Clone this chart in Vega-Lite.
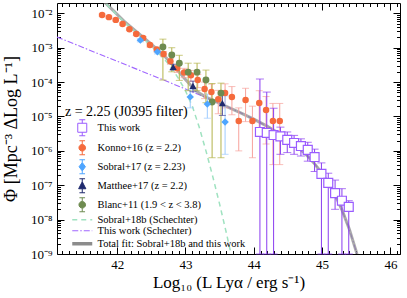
{
  "$schema": "https://vega.github.io/schema/vega-lite/v6.json",
  "width": 343,
  "height": 251,
  "autosize": {"type": "none"},
  "padding": {"left": 57, "top": 3, "right": 7, "bottom": 44},
  "background": "white",
  "config": {
    "font": "Liberation Serif",
    "view": {"stroke": "#000", "strokeWidth": 1},
    "axis": {"domain": false, "grid": false, "tickColor": "#000", "labelColor": "#000", "titleColor": "#000", "labelFont": "Liberation Serif", "titleFont": "Liberation Serif", "labelFontSize": 13, "titleFontSize": 17, "titleFontWeight": "normal", "labelOverlap": false, "labelFlush": false}
  },
  "datasets": {
    "konno": [
      {"L": 41.78, "y": -2.05, "hi": -2.02, "lo": -2.08},
      {"L": 41.88, "y": -2.11, "hi": -2.08, "lo": -2.14},
      {"L": 41.98, "y": -2.19, "hi": -2.16, "lo": -2.22},
      {"L": 42.08, "y": -2.31, "hi": -2.28, "lo": -2.34},
      {"L": 42.18, "y": -2.46, "hi": -2.43, "lo": -2.5},
      {"L": 42.28, "y": -2.6, "hi": -2.56, "lo": -2.64},
      {"L": 42.38, "y": -2.72, "hi": -2.68, "lo": -2.77},
      {"L": 42.48, "y": -2.92, "hi": -2.87, "lo": -2.98},
      {"L": 42.58, "y": -3.05, "hi": -2.99, "lo": -3.12},
      {"L": 42.68, "y": -3.18, "hi": -3.11, "lo": -3.26},
      {"L": 42.78, "y": -3.39, "hi": -3.31, "lo": -3.48},
      {"L": 42.88, "y": -3.6, "hi": -3.5, "lo": -3.72},
      {"L": 42.98, "y": -3.72, "hi": -3.6, "lo": -3.87},
      {"L": 43.08, "y": -3.8, "hi": -3.66, "lo": -3.98},
      {"L": 43.18, "y": -3.94, "hi": -3.78, "lo": -4.16},
      {"L": 43.28, "y": -4.2, "hi": -4.0, "lo": -4.48},
      {"L": 43.38, "y": -4.29, "hi": -4.06, "lo": -4.63},
      {"L": 43.48, "y": -4.5, "hi": -4.24, "lo": -4.92},
      {"L": 43.58, "y": -4.32, "hi": -4.05, "lo": -4.75},
      {"L": 43.68, "y": -4.43, "hi": -4.13, "lo": -4.95},
      {"L": 43.78, "y": -5.13, "hi": -4.75, "lo": -6.0},
      {"L": 43.88, "y": -4.52, "hi": -4.18, "lo": -5.15},
      {"L": 43.98, "y": -5.13, "hi": -4.7, "lo": -6.2},
      {"L": 44.08, "y": -4.61, "hi": -4.25, "lo": -5.4},
      {"L": 44.18, "y": -4.81, "hi": -4.42, "lo": -5.8},
      {"L": 44.28, "y": -5.13, "hi": -4.62, "lo": -6.4},
      {"L": 44.38, "y": -5.13, "hi": -4.62, "lo": -6.4}
    ],
    "sobral17": [
      {"L": 42.34, "y": -2.78, "hi": -2.74, "lo": -2.83},
      {"L": 42.59, "y": -3.12, "hi": -3.07, "lo": -3.18},
      {"L": 43.07, "y": -4.43, "hi": -4.22, "lo": -4.75},
      {"L": 43.32, "y": -4.64, "hi": -4.35, "lo": -5.05},
      {"L": 43.58, "y": -5.16, "hi": -4.4, "lo": -6.1}
    ],
    "matthee": [
      {"L": 42.82, "y": -3.56, "hi": -3.48, "lo": -3.65},
      {"L": 43.11, "y": -4.11, "hi": -3.97, "lo": -4.28},
      {"L": 43.54, "y": -4.61, "hi": -4.35, "lo": -4.97}
    ],
    "blanc": [
      {"L": 42.67, "y": -2.98, "hi": -2.75, "lo": -3.94},
      {"L": 42.8, "y": -3.21, "hi": -3.0, "lo": -3.7},
      {"L": 42.91, "y": -3.45, "hi": -3.22, "lo": -3.95},
      {"L": 43.04, "y": -3.71, "hi": -3.45, "lo": -4.25},
      {"L": 43.17, "y": -3.71, "hi": -3.45, "lo": -4.25},
      {"L": 43.3, "y": -3.94, "hi": -3.65, "lo": -4.6},
      {"L": 43.39, "y": -4.58, "hi": -4.04, "lo": -6.2},
      {"L": 43.52, "y": -4.32, "hi": -4.03, "lo": -6.2}
    ],
    "thiswork": [
      {"L": 44.09, "y": -5.45, "hi": -3.91, "lo": -9},
      {"L": 44.19, "y": -5.48, "hi": -4.29, "lo": -9},
      {"L": 44.29, "y": -5.54, "hi": -4.76, "lo": -9},
      {"L": 44.39, "y": -5.58, "hi": -5.31, "lo": -6.1},
      {"L": 44.49, "y": -5.68, "hi": -5.45, "lo": -6.05},
      {"L": 44.59, "y": -5.77, "hi": -5.55, "lo": -6.1},
      {"L": 44.69, "y": -5.86, "hi": -5.65, "lo": -6.15},
      {"L": 44.79, "y": -5.97, "hi": -5.75, "lo": -6.3},
      {"L": 44.89, "y": -6.18, "hi": -5.95, "lo": -6.6},
      {"L": 44.99, "y": -6.67, "hi": -6.35, "lo": -9},
      {"L": 45.09, "y": -6.93, "hi": -6.65, "lo": -9},
      {"L": 45.19, "y": -7.23, "hi": -6.85, "lo": -7.7},
      {"L": 45.29, "y": -7.45, "hi": -7.1, "lo": -9},
      {"L": 45.39, "y": -7.63, "hi": -7.45, "lo": -9}
    ],
    "sch18": [
      {"series": "Sobral+18b (Schechter)", "L": 41.75, "y": -1.55},
      {"series": "Sobral+18b (Schechter)", "L": 41.9, "y": -1.85},
      {"series": "Sobral+18b (Schechter)", "L": 42.1, "y": -2.25},
      {"series": "Sobral+18b (Schechter)", "L": 42.3, "y": -2.6},
      {"series": "Sobral+18b (Schechter)", "L": 42.5, "y": -2.95},
      {"series": "Sobral+18b (Schechter)", "L": 42.7, "y": -3.35},
      {"series": "Sobral+18b (Schechter)", "L": 42.8, "y": -3.6},
      {"series": "Sobral+18b (Schechter)", "L": 42.9, "y": -3.9},
      {"series": "Sobral+18b (Schechter)", "L": 43.0, "y": -4.25},
      {"series": "Sobral+18b (Schechter)", "L": 43.1, "y": -4.7},
      {"series": "Sobral+18b (Schechter)", "L": 43.2, "y": -5.3},
      {"series": "Sobral+18b (Schechter)", "L": 43.3, "y": -6.0},
      {"series": "Sobral+18b (Schechter)", "L": 43.4, "y": -6.75},
      {"series": "Sobral+18b (Schechter)", "L": 43.5, "y": -7.55},
      {"series": "Sobral+18b (Schechter)", "L": 43.6, "y": -8.4},
      {"series": "Sobral+18b (Schechter)", "L": 43.7, "y": -9.3}
    ],
    "schtw": [
      {"series": "This work (Schechter)", "L": 41.12, "y": -2.69},
      {"series": "This work (Schechter)", "L": 41.5, "y": -2.992},
      {"series": "This work (Schechter)", "L": 42.0, "y": -3.393},
      {"series": "This work (Schechter)", "L": 42.5, "y": -3.795},
      {"series": "This work (Schechter)", "L": 43.0, "y": -4.2},
      {"series": "This work (Schechter)", "L": 43.5, "y": -4.62},
      {"series": "This work (Schechter)", "L": 43.8, "y": -4.887},
      {"series": "This work (Schechter)", "L": 44.0, "y": -5.079},
      {"series": "This work (Schechter)", "L": 44.2, "y": -5.289},
      {"series": "This work (Schechter)", "L": 44.4, "y": -5.53},
      {"series": "This work (Schechter)", "L": 44.6, "y": -5.817},
      {"series": "This work (Schechter)", "L": 44.7, "y": -5.986},
      {"series": "This work (Schechter)", "L": 44.8, "y": -6.179},
      {"series": "This work (Schechter)", "L": 44.9, "y": -6.4},
      {"series": "This work (Schechter)", "L": 45.0, "y": -6.658},
      {"series": "This work (Schechter)", "L": 45.1, "y": -6.963},
      {"series": "This work (Schechter)", "L": 45.2, "y": -7.325},
      {"series": "This work (Schechter)", "L": 45.3, "y": -7.761},
      {"series": "This work (Schechter)", "L": 45.4, "y": -8.289},
      {"series": "This work (Schechter)", "L": 45.5, "y": -8.932},
      {"series": "This work (Schechter)", "L": 45.55, "y": -9.307}
    ],
    "total": [
      {"series": "Total fit: Sobral+18b and this work", "L": 41.75, "y": -1.545},
      {"series": "Total fit: Sobral+18b and this work", "L": 41.9, "y": -1.835},
      {"series": "Total fit: Sobral+18b and this work", "L": 42.1, "y": -2.225},
      {"series": "Total fit: Sobral+18b and this work", "L": 42.3, "y": -2.561},
      {"series": "Total fit: Sobral+18b and this work", "L": 42.5, "y": -2.892},
      {"series": "Total fit: Sobral+18b and this work", "L": 42.7, "y": -3.254},
      {"series": "Total fit: Sobral+18b and this work", "L": 42.8, "y": -3.465},
      {"series": "Total fit: Sobral+18b and this work", "L": 42.9, "y": -3.694},
      {"series": "Total fit: Sobral+18b and this work", "L": 43.0, "y": -3.923},
      {"series": "Total fit: Sobral+18b and this work", "L": 43.1, "y": -4.143},
      {"series": "Total fit: Sobral+18b and this work", "L": 43.2, "y": -4.318},
      {"series": "Total fit: Sobral+18b and this work", "L": 43.3, "y": -4.437},
      {"series": "Total fit: Sobral+18b and this work", "L": 43.4, "y": -4.527},
      {"series": "Total fit: Sobral+18b and this work", "L": 43.5, "y": -4.618},
      {"series": "Total fit: Sobral+18b and this work", "L": 43.8, "y": -4.887},
      {"series": "Total fit: Sobral+18b and this work", "L": 44.0, "y": -5.079},
      {"series": "Total fit: Sobral+18b and this work", "L": 44.2, "y": -5.289},
      {"series": "Total fit: Sobral+18b and this work", "L": 44.4, "y": -5.53},
      {"series": "Total fit: Sobral+18b and this work", "L": 44.6, "y": -5.817},
      {"series": "Total fit: Sobral+18b and this work", "L": 44.7, "y": -5.986},
      {"series": "Total fit: Sobral+18b and this work", "L": 44.8, "y": -6.179},
      {"series": "Total fit: Sobral+18b and this work", "L": 44.9, "y": -6.4},
      {"series": "Total fit: Sobral+18b and this work", "L": 45.0, "y": -6.658},
      {"series": "Total fit: Sobral+18b and this work", "L": 45.1, "y": -6.963},
      {"series": "Total fit: Sobral+18b and this work", "L": 45.2, "y": -7.325},
      {"series": "Total fit: Sobral+18b and this work", "L": 45.3, "y": -7.761},
      {"series": "Total fit: Sobral+18b and this work", "L": 45.4, "y": -8.289},
      {"series": "Total fit: Sobral+18b and this work", "L": 45.5, "y": -8.932},
      {"series": "Total fit: Sobral+18b and this work", "L": 45.55, "y": -9.307}
    ]
  },
  "layer": [
    {
      "layer": [
        {
          "data": {"name": "schtw"},
          "mark": {"type": "line", "clip": true, "strokeWidth": 1.1, "strokeDash": [6, 2, 1.5, 2]},
          "encoding": {
            "x": {"field": "L", "type": "quantitative", "title": "Log₁₀ (L Lyα / erg s⁻¹)", "scale": {"domain": [41.12, 46.14], "nice": false, "zero": false},
              "axis": {"orient": "bottom", "values": [42, 43, 44, 45, 46], "format": "d", "labelOverlap": false,
                "tickSize": -7, "labelPadding": 11, "titleBaseline": "alphabetic", "titleY": 33}},
            "y": {"field": "y", "type": "quantitative", "title": "Φ    [Mpc⁻³ ΔLog L⁻¹]", "scale": {"domain": [-9, -1.699], "nice": false, "zero": false},
              "axis": {"orient": "left", "values": [-9, -7, -5, -3], "labelOverlap": false,
                "labelExpr": "'10⁻' + ['⁰','¹','²','³','⁴','⁵','⁶','⁷','⁸','⁹'][-round(datum.value)]",
                "tickSize": -7, "labelPadding": 12, "titleX": -37, "titleY": 125.5, "titleAnchor": "middle", "titleFontSize": 18}},
            "color": {"field": "series", "type": "nominal",
              "scale": {"domain": ["This work", "Konno+16 (z = 2.2)", "Sobral+17 (z = 2.23)", "Matthee+17 (z = 2.2)", "Blanc+11 (1.9 < z < 3.8)", "Sobral+18b (Schechter)", "This work (Schechter)", "Total fit: Sobral+18b and this work"],
                "range": ["#9a5cff", "#f56a3c", "#4ea5ff", "#1f2a6e", "#6e8b50", "#9fe2c0", "#a066ff", "#8c8c8c"]},
              "legend": {"orient": "none", "legendX": 8, "legendY": 102, "padding": 0,
                "title": "z = 2.25 (J0395 filter)", "titleFont": "Liberation Serif", "titleFontSize": 14, "titleFontWeight": "normal", "titleColor": "#000", "titlePadding": 3.5,
                "labelFont": "Liberation Serif", "labelFontSize": 10.5, "labelColor": "#000", "labelOffset": 10,
                "symbolSize": 256, "rowPadding": 0, "symbolOffset": 12,
                "encode": {"symbols": {"update": {
                  "shape": {"signal": "datum.value === 'This work' ? 'M-0.45,-0.45L0.45,-0.45L0.45,0.45L-0.45,0.45Z M0,-0.45L0,-0.8 M-0.3,-0.8L0.3,-0.8 M0,0.45L0,0.8 M-0.3,0.8L0.3,0.8' : (datum.value === 'Konno+16 (z = 2.2)' || datum.value === 'Blanc+11 (1.9 < z < 3.8)') ? 'M-0.33,0A0.33,0.33,0,1,0,0.33,0A0.33,0.33,0,1,0,-0.33,0Z M0,-0.33L0,-0.7 M-0.28,-0.7L0.28,-0.7 M0,0.33L0,0.7 M-0.28,0.7L0.28,0.7' : datum.value === 'Sobral+17 (z = 2.23)' ? 'M0,-0.42L0.32,0L0,0.42L-0.32,0Z M0,-0.42L0,-0.7 M-0.28,-0.7L0.28,-0.7 M0,0.42L0,0.7 M-0.28,0.7L0.28,0.7' : datum.value === 'Matthee+17 (z = 2.2)' ? 'M0,-0.4L0.36,0.3L-0.36,0.3Z M0,-0.4L0,-0.7 M-0.28,-0.7L0.28,-0.7 M0,0.3L0,0.7 M-0.28,0.7L0.28,0.7' : 'M-1,0L1,0'"},
                  "fill": {"signal": "datum.value === 'This work' ? '#ffffff' : datum.value === 'Konno+16 (z = 2.2)' ? '#f56a3c' : datum.value === 'Sobral+17 (z = 2.23)' ? '#4ea5ff' : datum.value === 'Matthee+17 (z = 2.2)' ? '#1f2a6e' : datum.value === 'Blanc+11 (1.9 < z < 3.8)' ? '#6e8b50' : 'transparent'"},
                  "stroke": {"signal": "datum.value === 'This work' ? '#8a3cf0' : datum.value === 'Konno+16 (z = 2.2)' ? '#f7a29c' : datum.value === 'Sobral+17 (z = 2.23)' ? '#9dcbff' : datum.value === 'Matthee+17 (z = 2.2)' ? '#4a4a9a' : datum.value === 'Blanc+11 (1.9 < z < 3.8)' ? '#b3b34a' : datum.value === 'Sobral+18b (Schechter)' ? '#9fe2c0' : datum.value === 'This work (Schechter)' ? '#a066ff' : '#a0a0a0'"},
                  "strokeWidth": {"signal": "datum.value === 'Total fit: Sobral+18b and this work' ? 3.5 : datum.value === 'Sobral+18b (Schechter)' ? 1.5 : 1"},
                  "strokeDash": {"signal": "datum.value === 'Sobral+18b (Schechter)' ? [5, 4] : datum.value === 'This work (Schechter)' ? [6, 2, 1.5, 2] : []"},
                  "size": {"value": 400},
                  "opacity": {"value": 1}
                }}}}}
          }
        },
        {
          "data": {"name": "total"},
          "mark": {"type": "line", "clip": true, "strokeWidth": 3, "opacity": 0.72},
          "encoding": {"x": {"field": "L", "type": "quantitative", "title": "Log₁₀ (L Lyα / erg s⁻¹)"}, "y": {"field": "y", "type": "quantitative", "title": "Φ    [Mpc⁻³ ΔLog L⁻¹]"}, "color": {"field": "series", "type": "nominal"}}
        },
        {
          "data": {"name": "sch18"},
          "mark": {"type": "line", "clip": true, "strokeWidth": 1.5, "strokeDash": [5, 4]},
          "encoding": {"x": {"field": "L", "type": "quantitative", "title": "Log₁₀ (L Lyα / erg s⁻¹)"}, "y": {"field": "y", "type": "quantitative", "title": "Φ    [Mpc⁻³ ΔLog L⁻¹]"}, "color": {"field": "series", "type": "nominal"}}
        },
        {
          "data": {"name": "konno"},
          "mark": {"type": "errorbar", "color": "#f7a29c", "ticks": {"size": 7}},
          "encoding": {"x": {"field": "L", "type": "quantitative", "title": "Log₁₀ (L Lyα / erg s⁻¹)"}, "y": {"field": "lo", "type": "quantitative", "title": "Φ    [Mpc⁻³ ΔLog L⁻¹]"}, "y2": {"field": "hi"}}
        },
        {
          "data": {"name": "sobral17"},
          "mark": {"type": "errorbar", "color": "#9dcbff", "ticks": {"size": 7}},
          "encoding": {"x": {"field": "L", "type": "quantitative", "title": "Log₁₀ (L Lyα / erg s⁻¹)"}, "y": {"field": "lo", "type": "quantitative", "title": "Φ    [Mpc⁻³ ΔLog L⁻¹]"}, "y2": {"field": "hi"}}
        },
        {
          "data": {"name": "blanc"},
          "mark": {"type": "errorbar", "color": "#b3b34a", "ticks": {"size": 7}},
          "encoding": {"x": {"field": "L", "type": "quantitative", "title": "Log₁₀ (L Lyα / erg s⁻¹)"}, "y": {"field": "lo", "type": "quantitative", "title": "Φ    [Mpc⁻³ ΔLog L⁻¹]"}, "y2": {"field": "hi"}}
        },
        {
          "data": {"name": "matthee"},
          "mark": {"type": "errorbar", "color": "#4a4a9a", "ticks": {"size": 7}},
          "encoding": {"x": {"field": "L", "type": "quantitative", "title": "Log₁₀ (L Lyα / erg s⁻¹)"}, "y": {"field": "lo", "type": "quantitative", "title": "Φ    [Mpc⁻³ ΔLog L⁻¹]"}, "y2": {"field": "hi"}}
        },
        {
          "data": {"name": "thiswork"},
          "mark": {"type": "errorbar", "color": "#8a3cf0", "ticks": {"size": 8}},
          "encoding": {"x": {"field": "L", "type": "quantitative", "title": "Log₁₀ (L Lyα / erg s⁻¹)"}, "y": {"field": "lo", "type": "quantitative", "title": "Φ    [Mpc⁻³ ΔLog L⁻¹]"}, "y2": {"field": "hi"}}
        },
        {
          "data": {"name": "konno"},
          "mark": {"type": "point", "shape": "circle", "filled": true, "size": 42, "color": "#f56a3c", "opacity": 1},
          "encoding": {"x": {"field": "L", "type": "quantitative", "title": "Log₁₀ (L Lyα / erg s⁻¹)"}, "y": {"field": "y", "type": "quantitative", "title": "Φ    [Mpc⁻³ ΔLog L⁻¹]"}}
        },
        {
          "data": {"name": "blanc"},
          "mark": {"type": "point", "shape": "circle", "filled": true, "size": 48, "color": "#6e8b50", "opacity": 1},
          "encoding": {"x": {"field": "L", "type": "quantitative", "title": "Log₁₀ (L Lyα / erg s⁻¹)"}, "y": {"field": "y", "type": "quantitative", "title": "Φ    [Mpc⁻³ ΔLog L⁻¹]"}}
        },
        {
          "data": {"name": "sobral17"},
          "mark": {"type": "point", "shape": "diamond", "filled": true, "size": 55, "color": "#4ea5ff", "opacity": 1},
          "encoding": {"x": {"field": "L", "type": "quantitative", "title": "Log₁₀ (L Lyα / erg s⁻¹)"}, "y": {"field": "y", "type": "quantitative", "title": "Φ    [Mpc⁻³ ΔLog L⁻¹]"}}
        },
        {
          "data": {"name": "matthee"},
          "mark": {"type": "point", "shape": "triangle-up", "filled": true, "size": 50, "color": "#1f2a6e", "opacity": 1},
          "encoding": {"x": {"field": "L", "type": "quantitative", "title": "Log₁₀ (L Lyα / erg s⁻¹)"}, "y": {"field": "y", "type": "quantitative", "title": "Φ    [Mpc⁻³ ΔLog L⁻¹]"}}
        },
        {
          "data": {"name": "thiswork"},
          "mark": {"type": "point", "shape": "square", "filled": true, "size": 80, "fill": "#ffffff", "stroke": "#9a5cff", "strokeWidth": 1.2, "opacity": 1},
          "encoding": {"x": {"field": "L", "type": "quantitative", "title": "Log₁₀ (L Lyα / erg s⁻¹)"}, "y": {"field": "y", "type": "quantitative", "title": "Φ    [Mpc⁻³ ΔLog L⁻¹]"}}
        }
      ]
    },
    {
      "data": {"name": "thiswork"},
      "mark": {"type": "point", "opacity": 0},
      "encoding": {
        "x": {"field": "L", "type": "quantitative",
          "axis": {"orient": "bottom", "labels": false, "title": null, "tickSize": -3.5, "values": [41.2,41.3,41.4,41.5,41.6,41.7,41.8,41.9,42.1,42.2,42.3,42.4,42.5,42.6,42.7,42.8,42.9,43.1,43.2,43.3,43.4,43.5,43.6,43.7,43.8,43.9,44.1,44.2,44.3,44.4,44.5,44.6,44.7,44.8,44.9,45.1,45.2,45.3,45.4,45.5,45.6,45.7,45.8,45.9,46.1]}},
        "y": {"field": "y", "type": "quantitative",
          "axis": {"orient": "left", "labels": false, "title": null, "tickSize": -3.5, "values": [-8.69897,-8.52288,-8.39794,-8.30103,-8.22185,-8.1549,-8.09691,-8.04576,-7.69897,-7.52288,-7.39794,-7.30103,-7.22185,-7.1549,-7.09691,-7.04576,-6.69897,-6.52288,-6.39794,-6.30103,-6.22185,-6.1549,-6.09691,-6.04576,-5.69897,-5.52288,-5.39794,-5.30103,-5.22185,-5.1549,-5.09691,-5.04576,-4.69897,-4.52288,-4.39794,-4.30103,-4.22185,-4.1549,-4.09691,-4.04576,-3.69897,-3.52288,-3.39794,-3.30103,-3.22185,-3.1549,-3.09691,-3.04576,-2.69897,-2.52288,-2.39794,-2.30103,-2.22185,-2.1549,-2.09691,-2.04576]}}
      }
    },
    {
      "data": {"name": "thiswork"},
      "mark": {"type": "point", "opacity": 0},
      "encoding": {
        "x": {"field": "L", "type": "quantitative",
          "axis": {"orient": "top", "labels": false, "title": null, "tickSize": -7, "values": [42, 43, 44, 45, 46]}},
        "y": {"field": "y", "type": "quantitative",
          "axis": {"orient": "right", "labels": false, "title": null, "tickSize": -7, "values": [-9, -8, -7, -6, -5, -4, -3, -2]}}
      }
    },
    {
      "data": {"name": "thiswork"},
      "mark": {"type": "point", "opacity": 0},
      "encoding": {
        "x": {"field": "L", "type": "quantitative",
          "axis": {"orient": "top", "labels": false, "title": null, "tickSize": -3.5, "values": [41.2,41.3,41.4,41.5,41.6,41.7,41.8,41.9,42.1,42.2,42.3,42.4,42.5,42.6,42.7,42.8,42.9,43.1,43.2,43.3,43.4,43.5,43.6,43.7,43.8,43.9,44.1,44.2,44.3,44.4,44.5,44.6,44.7,44.8,44.9,45.1,45.2,45.3,45.4,45.5,45.6,45.7,45.8,45.9,46.1]}},
        "y": {"field": "y", "type": "quantitative",
          "axis": {"orient": "right", "labels": false, "title": null, "tickSize": -3.5, "values": [-8.69897,-8.52288,-8.39794,-8.30103,-8.22185,-8.1549,-8.09691,-8.04576,-7.69897,-7.52288,-7.39794,-7.30103,-7.22185,-7.1549,-7.09691,-7.04576,-6.69897,-6.52288,-6.39794,-6.30103,-6.22185,-6.1549,-6.09691,-6.04576,-5.69897,-5.52288,-5.39794,-5.30103,-5.22185,-5.1549,-5.09691,-5.04576,-4.69897,-4.52288,-4.39794,-4.30103,-4.22185,-4.1549,-4.09691,-4.04576,-3.69897,-3.52288,-3.39794,-3.30103,-3.22185,-3.1549,-3.09691,-3.04576,-2.69897,-2.52288,-2.39794,-2.30103,-2.22185,-2.1549,-2.09691,-2.04576]}}
      }
    },
    {
      "data": {"name": "thiswork"},
      "mark": {"type": "point", "opacity": 0},
      "encoding": {
        "x": {"field": "L", "type": "quantitative", "axis": null},
        "y": {"field": "y", "type": "quantitative",
          "axis": {"orient": "left", "title": null, "values": [-8, -6, -4, -2], "labelOverlap": false,
            "labelExpr": "'10⁻' + ['⁰','¹','²','³','⁴','⁵','⁶','⁷','⁸','⁹'][-round(datum.value)]",
            "tickSize": -7, "labelPadding": 12}}
      }
    }
  ],
  "resolve": {"axis": {"x": "independent", "y": "independent"}}
}
